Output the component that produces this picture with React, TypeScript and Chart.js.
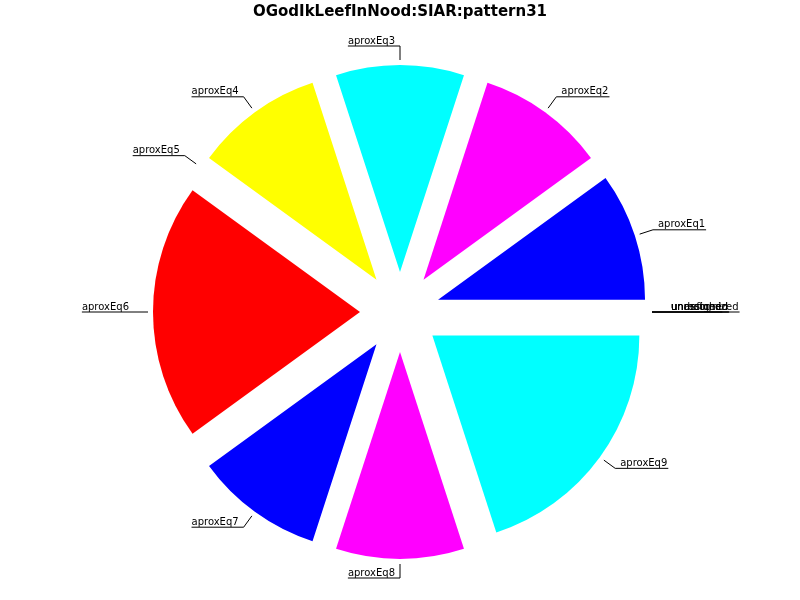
import React, { useEffect, useRef } from "react";
import { Chart, registerables } from "chart.js";

Chart.register(...registerables);

const TITLE = "OGodIkLeefInNood:SIAR:pattern31";

// categories in counter-clockwise order starting at east (as in the reference)
const categories = [
  "aproxEq1",
  "aproxEq2",
  "aproxEq3",
  "aproxEq4",
  "aproxEq5",
  "aproxEq6",
  "aproxEq7",
  "aproxEq8",
  "aproxEq9",
  "unassigned",
  "unrecognized",
  "undefined",
  "unmatched",
];
const values = [1, 1, 1, 1, 0, 2, 1, 1, 2, 0, 0, 0, 0];
const colors = [
  "#0000ff",
  "#ff00ff",
  "#00ffff",
  "#ffff00",
  "#ff0000",
  "#ff0000",
  "#0000ff",
  "#ff00ff",
  "#00ffff",
  "#0000ff",
  "#ff00ff",
  "#00ffff",
  "#ffff00",
];

const RADIUS = 207;
const EXPLODE = 40;
const LEAD_START = RADIUS + 45;
const LEAD_END = RADIUS + 59;
const LABEL_FONT = "10px 'DejaVu Sans'";

const explodePlugin = {
  id: "explodeSlices",
  beforeDatasetDraw(chart: any, args: any) {
    const ctx = chart.ctx;
    args.meta.data.forEach((arc: any) => {
      const { startAngle, endAngle } = arc.getProps(["startAngle", "endAngle"], true);
      const mid = (startAngle + endAngle) / 2;
      ctx.save();
      ctx.translate(Math.cos(mid) * EXPLODE, Math.sin(mid) * EXPLODE);
      arc.draw(ctx);
      ctx.restore();
    });
    return false;
  },
};

const labelPlugin = {
  id: "sliceLabels",
  afterDatasetsDraw(chart: any) {
    const ctx = chart.ctx;
    const meta = chart.getDatasetMeta(0);
    const labels = chart.data.labels as string[];
    ctx.save();
    ctx.font = LABEL_FONT;
    ctx.fillStyle = "#000";
    ctx.strokeStyle = "#000";
    ctx.lineWidth = 1;
    ctx.textBaseline = "alphabetic";
    meta.data.forEach((arc: any, i: number) => {
      const { x, y, startAngle, endAngle } = arc.getProps(
        ["x", "y", "startAngle", "endAngle"],
        true
      );
      const mid = (startAngle + endAngle) / 2;
      const c = Math.cos(mid);
      const s = Math.sin(mid);
      const x1 = x + c * LEAD_START;
      const y1 = y + s * LEAD_START;
      const x2 = x + c * LEAD_END;
      const y2 = y + s * LEAD_END;
      const text = labels[i];
      const w = ctx.measureText(text).width;
      const right = c > 0.01;
      let tx: number;
      let lx: number;
      if (right) {
        tx = x2 + 5;
        lx = tx + w + 1;
      } else {
        tx = x2 - 5 - w;
        lx = tx;
      }
      ctx.beginPath();
      ctx.moveTo(x1, y1);
      ctx.lineTo(x2, y2);
      ctx.lineTo(lx, y2);
      ctx.stroke();
      ctx.textAlign = "left";
      ctx.fillText(text, tx, y2 - 2.5);
    });
    ctx.restore();
  },
};

export default function App() {
  const ref = useRef<HTMLCanvasElement | null>(null);

  useEffect(() => {
    if (!ref.current) return;
    // Chart.js draws clockwise from the rotation; reverse to get counter-clockwise order
    const order = categories.map((_, i) => categories.length - 1 - i);
    const chart = new Chart(ref.current, {
      type: "pie",
      data: {
        labels: order.map((i) => categories[i]),
        datasets: [
          {
            data: order.map((i) => values[i]),
            backgroundColor: order.map((i) => colors[i]),
            borderWidth: 0,
            radius: RADIUS,
          } as any,
        ],
      },
      options: {
        animation: false,
        responsive: false,
        rotation: 90,
        layout: { padding: { bottom: 6 } },
        plugins: {
          legend: { display: false },
          tooltip: { enabled: false },
          title: {
            display: true,
            text: TITLE,
            color: "#000",
            font: { family: "'DejaVu Sans'", size: 15, weight: "bold" },
            padding: { top: 3, bottom: 9 },
          },
        },
      },
      plugins: [explodePlugin, labelPlugin],
    });
    return () => chart.destroy();
  }, []);

  return (
    <div style={{ position: "absolute", left: 0, top: 0, width: 800, height: 600, background: "#fff" }}>
      <canvas ref={ref} width={800} height={600} />
    </div>
  );
}
